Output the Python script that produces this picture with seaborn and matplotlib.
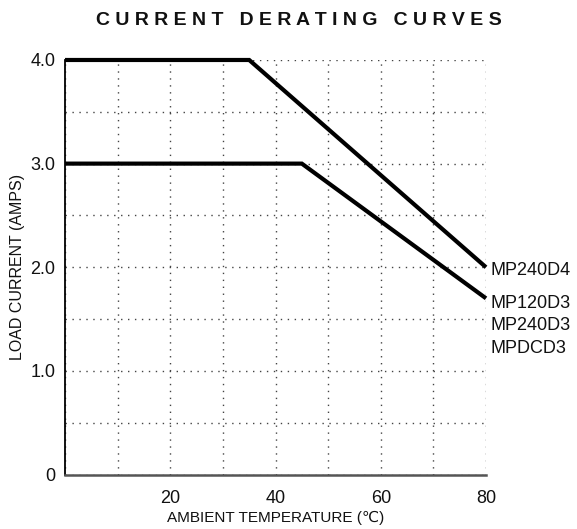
import matplotlib
matplotlib.use('Agg')
import matplotlib.pyplot as plt
import pandas as pd
import seaborn as sns

# derating data
temps_d4 = [0, 35, 80]
amps_d4 = [4.0, 4.0, 2.0]
temps_d3 = [0, 45, 80]
amps_d3 = [3.0, 3.0, 1.7]

series_d4 = 'MP240D4'
series_d3 = ['MP120D3', 'MP240D3', 'MPDCD3']

x_ticks = [0, 10, 20, 30, 40, 50, 60, 70, 80]
x_labels = ['', '', '20', '', '40', '', '60', '', '80']
y_ticks = [0, 0.5, 1.0, 1.5, 2.0, 2.5, 3.0, 3.5, 4.0]
y_labels = ['0', '', '1.0', '', '2.0', '', '3.0', '', '4.0']

df = pd.concat([
    pd.DataFrame({'temp': temps_d4, 'amps': amps_d4, 'model': series_d4}),
    pd.DataFrame({'temp': temps_d3, 'amps': amps_d3, 'model': series_d3[0]}),
])

sns.set_theme(style='white')
plt.rcParams['font.family'] = ['Liberation Sans', 'DejaVu Sans']

fig = plt.figure(figsize=(5.77, 5.29), dpi=100)
ax = fig.add_axes([0.1127, 0.1030, 0.7296, 0.7836])

sns.lineplot(data=df, x='temp', y='amps', units='model', estimator=None,
             color='black', linewidth=3, ax=ax, legend=False,
             clip_on=False, solid_capstyle='butt', solid_joinstyle='miter')

ax.set_xlim(0, 80)
ax.set_ylim(0, 4.0)
ax.set_xticks(x_ticks, x_labels)
ax.set_yticks(y_ticks, y_labels)
ax.tick_params(axis='both', length=0, labelsize=13, colors='#111111')
ax.tick_params(axis='x', pad=11)
ax.tick_params(axis='y', pad=7)

ax.grid(True, linestyle=(0, (1, 4)), linewidth=1, color='#444444')
ax.set_axisbelow(True)

for side in ['top', 'right']:
    ax.spines[side].set_visible(False)
ax.spines['left'].set_color('black')
ax.spines['left'].set_linewidth(1.3)
ax.spines['bottom'].set_color('#555555')
ax.spines['bottom'].set_linewidth(1.8)

ax.set_xlabel('AMBIENT TEMPERATURE (\u2103)', fontsize=11, labelpad=3,
              color='#111111')
ax.set_ylabel('LOAD CURRENT (AMPS)', fontsize=11.5, labelpad=4, color='#111111')

# model names at the ends of the curves
ax.annotate(series_d4, xy=(temps_d4[-1], amps_d4[-1]), xytext=(3, -2),
            textcoords='offset points', fontsize=13, va='center', ha='left',
            color='#111111', annotation_clip=False)
for i, name in enumerate(series_d3):
    ax.annotate(name, xy=(temps_d3[-1], amps_d3[-1]), xytext=(3, -3.6 - 16.2 * i),
                textcoords='offset points', fontsize=13, va='center', ha='left',
                color='#111111', annotation_clip=False)

title = '   '.join(' '.join(word) for word in 'CURRENT DERATING CURVES'.split())
fig.text(0.518, 0.961, title, fontsize=14, fontweight='bold', ha='center',
         va='center', color='#111111')

fig.savefig('out.png', dpi=100)
